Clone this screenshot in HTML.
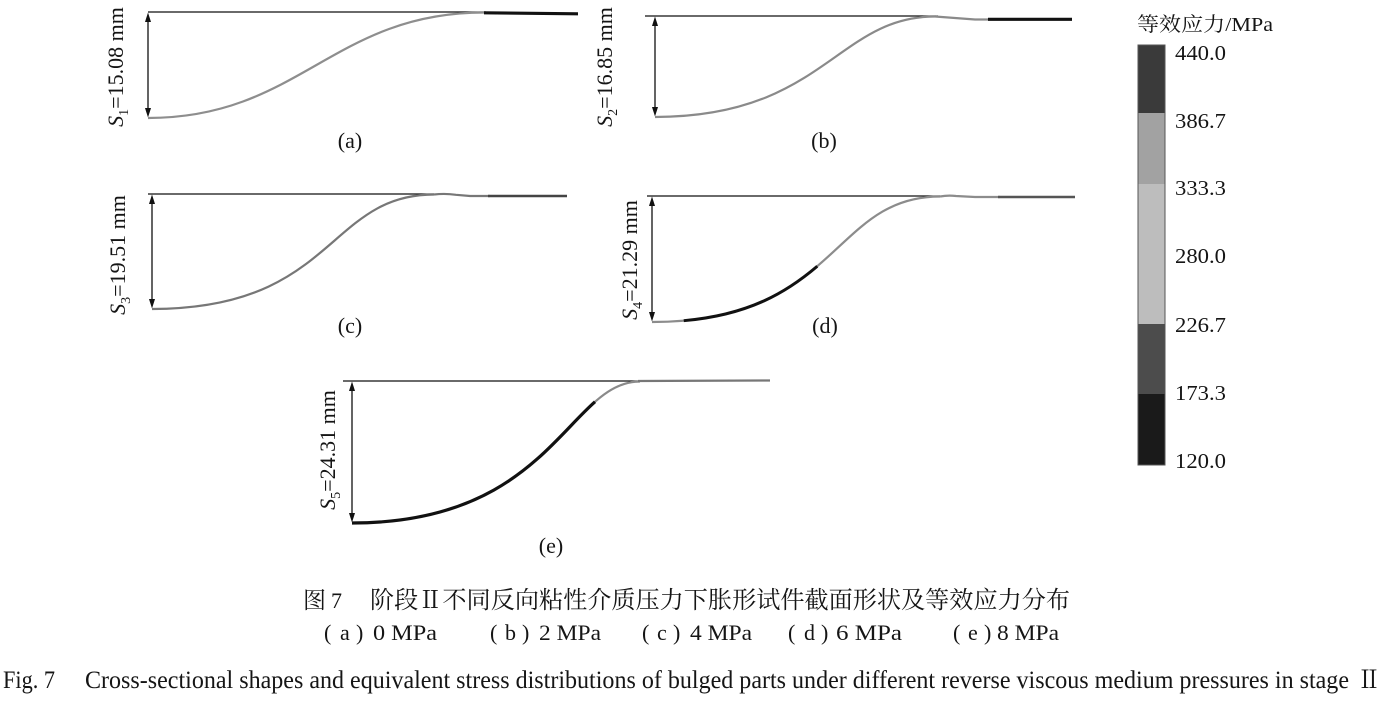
<!DOCTYPE html>
<html><head><meta charset="utf-8"><style>
html,body{margin:0;padding:0;background:#fff;}
svg{display:block;}
text{font-family:"Liberation Serif","Noto Serif CJK SC",serif;fill:#151515;}
.cjk{font-family:"Liberation Serif","Noto Serif CJK SC","Noto Sans CJK SC",serif;}
</style></head><body>
<svg width="1387" height="702" viewBox="0 0 1387 702" xmlns="http://www.w3.org/2000/svg">
<rect width="1387" height="702" fill="#fff"/>

<!-- ===== Panel (a) ===== -->
<line x1="148" y1="12" x2="486" y2="12" stroke="#111" stroke-width="1.3"/>
<line x1="148" y1="18" x2="148" y2="112" stroke="#111" stroke-width="1.3"/>
<polygon points="148,12.5 145,22 151,22" fill="#111"/>
<polygon points="148,117.5 145,108 151,108" fill="#111"/>
<path d="M148,118 C299,118 333,12.5 484,12.5" fill="none" stroke="#8e8e8e" stroke-width="2.2"/>
<path d="M484,12.8 L578,13.8" fill="none" stroke="#111" stroke-width="3.2"/>
<text transform="translate(123,67) rotate(-90)" text-anchor="middle" font-size="22"><tspan font-style="italic">S</tspan><tspan font-size="14" dy="5">1</tspan><tspan dy="-5">=15.08 mm</tspan></text>
<text x="350" y="148" text-anchor="middle" font-size="22">(a)</text>

<!-- ===== Panel (b) ===== -->
<line x1="645" y1="16" x2="938" y2="16" stroke="#111" stroke-width="1.3"/>
<line x1="655" y1="22" x2="655" y2="111" stroke="#111" stroke-width="1.3"/>
<polygon points="655,16.5 652,26 658,26" fill="#111"/>
<polygon points="655,116.5 652,107 658,107" fill="#111"/>
<path d="M655,117 C823,117 837,16.5 935,16.5" fill="none" stroke="#8a8a8a" stroke-width="2.2"/>
<path d="M935,16.5 Q955,18 975,19.5 L990,19.5" fill="none" stroke="#8a8a8a" stroke-width="2.2"/>
<path d="M988,19.3 L1072,19.3" fill="none" stroke="#111" stroke-width="3.2"/>
<text transform="translate(612,67) rotate(-90)" text-anchor="middle" font-size="22"><tspan font-style="italic">S</tspan><tspan font-size="14" dy="5">2</tspan><tspan dy="-5">=16.85 mm</tspan></text>
<text x="824" y="148" text-anchor="middle" font-size="22">(b)</text>

<!-- ===== Panel (c) ===== -->
<line x1="148" y1="194" x2="434" y2="194" stroke="#111" stroke-width="1.3"/>
<line x1="152" y1="200" x2="152" y2="303" stroke="#111" stroke-width="1.3"/>
<polygon points="152,194.5 149,204 155,204" fill="#111"/>
<polygon points="152,308.5 149,299 155,299" fill="#111"/>
<path d="M152,309 C335,309 327,194.5 434,194.5" fill="none" stroke="#777" stroke-width="2.2"/>
<path d="M434,194.5 Q445,193.2 456,194.8 L470,196 L490,196" fill="none" stroke="#777" stroke-width="2.2"/>
<path d="M488,196 L567,196" fill="none" stroke="#444" stroke-width="2.4"/>
<text transform="translate(125,255) rotate(-90)" text-anchor="middle" font-size="22"><tspan font-style="italic">S</tspan><tspan font-size="14" dy="5">3</tspan><tspan dy="-5">=19.51 mm</tspan></text>
<text x="350" y="333" text-anchor="middle" font-size="22">(c)</text>

<!-- ===== Panel (d) ===== -->
<line x1="647" y1="196" x2="940" y2="196" stroke="#111" stroke-width="1.3"/>
<line x1="652" y1="202" x2="652" y2="316" stroke="#111" stroke-width="1.3"/>
<polygon points="652,196.5 649,206 655,206" fill="#111"/>
<polygon points="652,321.5 649,312 655,312" fill="#111"/>
<path d="M652,322 C839,322 831,196.5 940,196.5" fill="none" stroke="#8c8c8c" stroke-width="2.2"/>
<path pathLength="100" d="M652,322 C839,322 831,196.5 940,196.5" fill="none" stroke="#111" stroke-width="3" stroke-dasharray="0 9.8 45.3 100"/>
<path d="M940,196.5 Q948,195 956,196 L975,197 L1000,197" fill="none" stroke="#8c8c8c" stroke-width="2.2"/>
<path d="M998,197 L1075,197" fill="none" stroke="#555" stroke-width="2.4"/>
<text transform="translate(637,260) rotate(-90)" text-anchor="middle" font-size="22"><tspan font-style="italic">S</tspan><tspan font-size="14" dy="5">4</tspan><tspan dy="-5">=21.29 mm</tspan></text>
<text x="825" y="333" text-anchor="middle" font-size="22">(d)</text>

<!-- ===== Panel (e) ===== -->
<line x1="343" y1="381" x2="640" y2="381" stroke="#111" stroke-width="1.3"/>
<line x1="352" y1="387" x2="352" y2="517" stroke="#111" stroke-width="1.3"/>
<polygon points="352,381.5 349,391 355,391" fill="#111"/>
<polygon points="352,522.5 349,513 355,513" fill="#111"/>
<path d="M352,523 C553.6,523 568,381.5 640,381.5" fill="none" stroke="#8a8a8a" stroke-width="2.2"/>
<path pathLength="100" d="M352,523 C553.6,523 568,381.5 640,381.5" fill="none" stroke="#111" stroke-width="3.2" stroke-dasharray="84.8 100"/>
<path d="M638,381 L770,380.5" fill="none" stroke="#777" stroke-width="2.2"/>
<text transform="translate(335,450) rotate(-90)" text-anchor="middle" font-size="22"><tspan font-style="italic">S</tspan><tspan font-size="14" dy="5">5</tspan><tspan dy="-5">=24.31 mm</tspan></text>
<text x="551" y="553" text-anchor="middle" font-size="22">(e)</text>

<!-- ===== Colour bar ===== -->
<text class="cjk" x="1137" y="31" font-size="20" textLength="136" lengthAdjust="spacingAndGlyphs">等效应力/MPa</text>
<rect x="1138" y="45" width="27" height="68" fill="#3a3a3a"/>
<rect x="1138" y="113" width="27" height="71" fill="#a2a2a2"/>
<rect x="1138" y="184" width="27" height="140" fill="#bdbdbd"/>
<rect x="1138" y="324" width="27" height="70" fill="#4c4c4c"/>
<rect x="1138" y="394" width="27" height="71" fill="#1a1a1a"/>
<rect x="1138" y="45" width="27" height="420" fill="none" stroke="#555" stroke-width="1"/>
<text x="1175" y="60" font-size="21" textLength="51" lengthAdjust="spacingAndGlyphs">440.0</text>
<text x="1175" y="128" font-size="21" textLength="51" lengthAdjust="spacingAndGlyphs">386.7</text>
<text x="1175" y="195" font-size="21" textLength="51" lengthAdjust="spacingAndGlyphs">333.3</text>
<text x="1175" y="263" font-size="21" textLength="51" lengthAdjust="spacingAndGlyphs">280.0</text>
<text x="1175" y="332" font-size="21" textLength="51" lengthAdjust="spacingAndGlyphs">226.7</text>
<text x="1175" y="400" font-size="21" textLength="51" lengthAdjust="spacingAndGlyphs">173.3</text>
<text x="1175" y="468" font-size="21" textLength="51" lengthAdjust="spacingAndGlyphs">120.0</text>

<!-- ===== Captions ===== -->
<text class="cjk" x="303" y="608" font-size="23">图</text>
<text x="331" y="608" font-size="22">7</text>
<text class="cjk" x="370" y="608" font-size="24" textLength="700" lengthAdjust="spacingAndGlyphs">阶段Ⅱ不同反向粘性介质压力下胀形试件截面形状及等效应力分布</text>

<text font-size="22" y="640"><tspan x="324">(</tspan><tspan x="340">a</tspan><tspan x="356">)</tspan></text>
<text x="373" y="640" font-size="22" textLength="64" lengthAdjust="spacingAndGlyphs">0 MPa</text>
<text font-size="22" y="640"><tspan x="490">(</tspan><tspan x="505">b</tspan><tspan x="522">)</tspan></text>
<text x="539" y="640" font-size="22" textLength="62" lengthAdjust="spacingAndGlyphs">2 MPa</text>
<text font-size="22" y="640"><tspan x="642">(</tspan><tspan x="657">c</tspan><tspan x="673">)</tspan></text>
<text x="690" y="640" font-size="22" textLength="62" lengthAdjust="spacingAndGlyphs">4 MPa</text>
<text font-size="22" y="640"><tspan x="788">(</tspan><tspan x="804">d</tspan><tspan x="821">)</tspan></text>
<text x="836" y="640" font-size="22" textLength="66" lengthAdjust="spacingAndGlyphs">6 MPa</text>
<text font-size="22" y="640"><tspan x="953">(</tspan><tspan x="968">e</tspan><tspan x="984">)</tspan></text>
<text x="997" y="640" font-size="22" textLength="62" lengthAdjust="spacingAndGlyphs">8 MPa</text>

<text x="3" y="688" font-size="25" textLength="52" lengthAdjust="spacingAndGlyphs">Fig. 7</text>
<text x="85" y="688" font-size="25" textLength="1264" lengthAdjust="spacingAndGlyphs">Cross-sectional shapes and equivalent stress distributions of bulged parts under different reverse viscous medium pressures in stage</text>
<text class="cjk" x="1357" y="688" font-size="25" textLength="24" lengthAdjust="spacingAndGlyphs">Ⅱ</text>
</svg>
</body></html>
